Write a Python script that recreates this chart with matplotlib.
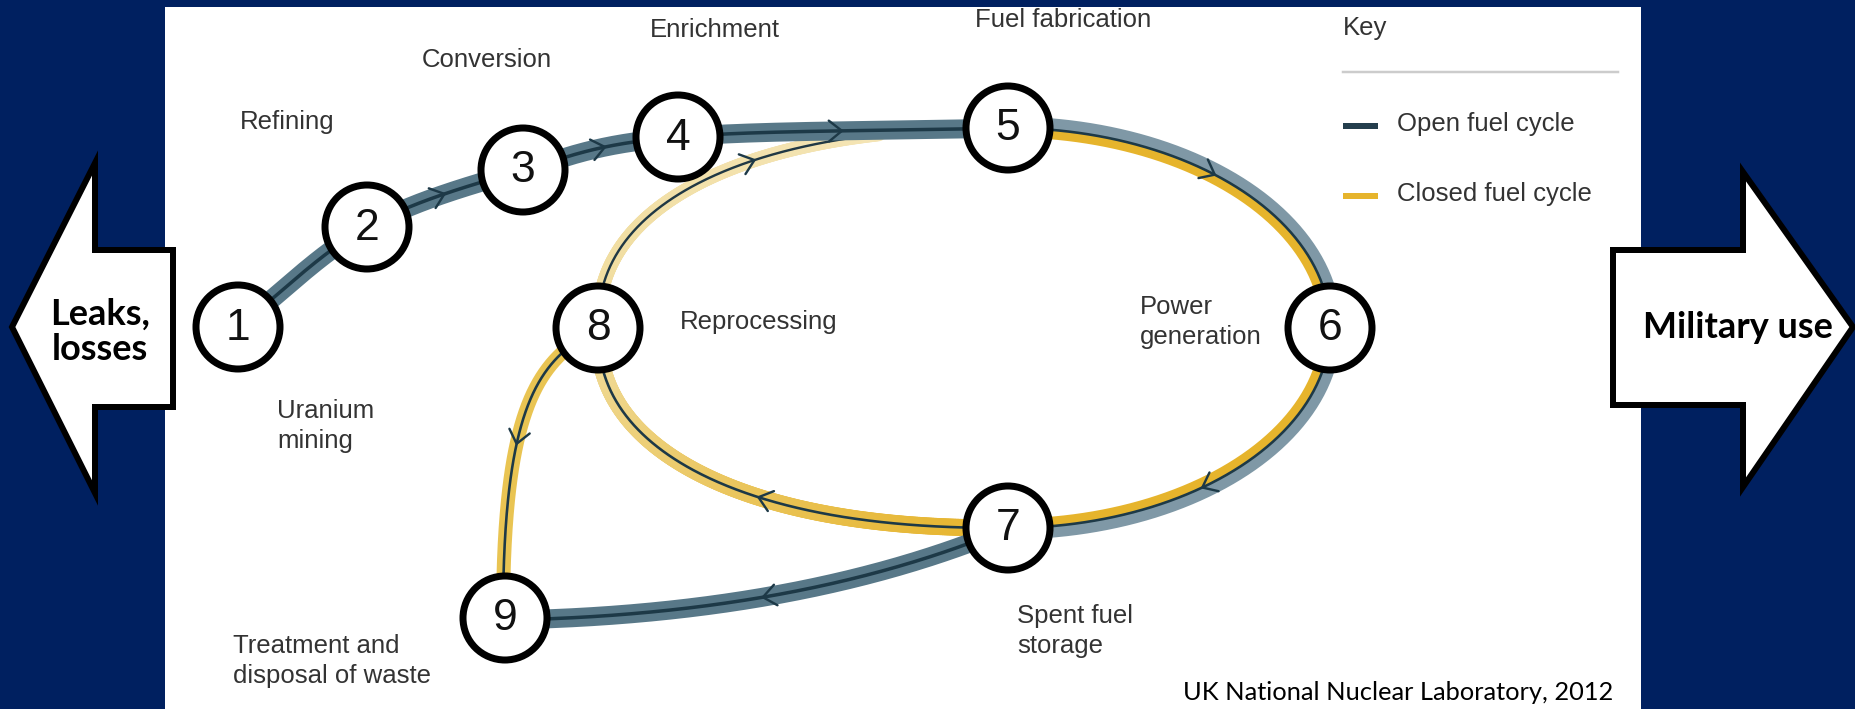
import matplotlib
matplotlib.use('Agg')
import matplotlib.pyplot as plt
import numpy as np
from matplotlib.patches import Circle, Polygon, Rectangle
from matplotlib.collections import LineCollection

# ---- content -------------------------------------------------------------
stage_num = ['1', '2', '3', '4', '5', '6', '7', '8', '9']
stage_names = ['Uranium\nmining', 'Refining', 'Conversion', 'Enrichment',
               'Fuel fabrication', 'Power\ngeneration', 'Spent fuel\nstorage',
               'Reprocessing', 'Treatment and\ndisposal of waste']
key_title = 'Key'
key_labels = ['Open fuel cycle', 'Closed fuel cycle']
side_labels = ['Leaks,\nlosses', 'Military use']
credit = 'UK National Nuclear Laboratory, 2012'

# ---- layout (pixels, origin top-left) --------------------------------------
W, H, DPI = 1856, 709, 100
PX = 72.0 / DPI

node_x = [238, 367, 523, 678, 1008, 1330, 1008, 598, 505]
node_y = [327, 227, 170, 137, 128, 328, 528, 328, 618]
node_r = 42

name_x = [277, 240, 422, 650, 975, 1140, 1017, 680, 233]
name_y = [426, 122, 60, 30, 20, 322, 631, 322, 661]

NAVY = '#002060'
OPEN = '#587888'
OPEN_LIGHT = '#7f98a6'
OPEN_DARK = '#1d3947'
GOLD = '#e6b42c'
GOLD_PALE = '#f0dc9c'
TXT = '#333333'
LABEL_FONT = 'Liberation Sans'


def catmull(pts, n=40):
    pts = np.asarray(pts, float)
    P = np.vstack([2 * pts[0] - pts[1], pts, 2 * pts[-1] - pts[-2]])
    out = []
    t = np.linspace(0, 1, n, endpoint=False)[:, None]
    for i in range(1, len(P) - 2):
        p0, p1, p2, p3 = P[i - 1], P[i], P[i + 1], P[i + 2]
        seg = 0.5 * (2 * p1 + (-p0 + p2) * t + (2 * p0 - 5 * p1 + 4 * p2 - p3) * t ** 2
                     + (-p0 + 3 * p1 - 3 * p2 + p3) * t ** 3)
        out.append(seg)
    out.append(pts[-1][None, :])
    return np.vstack(out)


def bezier(pts, n=200):
    pts = np.asarray(pts, float)
    s = np.linspace(0, 1, n)[:, None]
    if len(pts) == 3:
        return (1 - s) ** 2 * pts[0] + 2 * (1 - s) * s * pts[1] + s ** 2 * pts[2]
    return ((1 - s) ** 3 * pts[0] + 3 * (1 - s) ** 2 * s * pts[1]
            + 3 * (1 - s) * s ** 2 * pts[2] + s ** 3 * pts[3])


def line(ax, xy, width, color, z, cap='butt'):
    ax.plot(xy[:, 0], xy[:, 1], color=color, lw=width * PX,
            solid_capstyle=cap, solid_joinstyle='round', zorder=z)


def grad_line(ax, xy, width, c0, c1, z):
    segs = np.stack([xy[:-1], xy[1:]], axis=1)
    a = np.array(matplotlib.colors.to_rgb(c0))
    b = np.array(matplotlib.colors.to_rgb(c1))
    f = np.linspace(0, 1, len(segs))[:, None]
    cols = a * (1 - f) + b * f
    lc = LineCollection(segs, colors=cols, linewidths=width * PX,
                        capstyle='round', zorder=z)
    ax.add_collection(lc)


def chevron(ax, xy, at, axis=0, size=13, z=4):
    i = int(np.argmin(np.abs(xy[:, axis] - at)))
    i = min(max(i, 1), len(xy) - 2)
    d = xy[i + 1] - xy[i - 1]
    d = d / np.hypot(*d)
    n = np.array([-d[1], d[0]])
    tip = xy[i] + d * 4
    back = tip - d * size
    pts = np.array([back + n * size * 0.8, tip, back - n * size * 0.8])
    ax.plot(pts[:, 0], pts[:, 1], color=OPEN_DARK, lw=2.4 * PX,
            solid_capstyle='round', zorder=z)


fig = plt.figure(figsize=(W / DPI, H / DPI), dpi=DPI, facecolor=NAVY)
ax = fig.add_axes([0, 0, 1, 1])
ax.set_xlim(0, W)
ax.set_ylim(H, 0)
ax.axis('off')

# white panel
ax.add_patch(Rectangle((165, 7), 1641 - 165, H, fc='white', ec='none', zorder=0))

# ---- paths ---------------------------------------------------------------
cx, cy = node_x[4], node_y[5]
b = node_y[6] - cy
a_r = node_x[5] - cx
a_l = cx - node_x[7]
ex = 2.3

# open route 1-2-3-4-5
main = catmull(list(zip(node_x[:5], node_y[:5])), 60)

# right half of the loop 5-6-7
t = np.linspace(-np.pi / 2, np.pi / 2, 300)


def right_half(off):
    return np.column_stack([cx + (a_r + off) * np.cos(t), cy + (b + off) * np.sin(t)])


# left half of the loop: lower 7-8 and upper 8-4
phi = np.linspace(0, np.pi / 2, 300)
lower = np.column_stack([cx - a_l * np.sin(phi) ** (2 / ex),
                         cy + b * np.cos(phi) ** (2 / ex)])
phi_u = np.linspace(np.pi / 2, 0, 300)
upper = np.column_stack([cx - a_l * np.sin(phi_u) ** (2 / ex),
                         cy - b * np.cos(phi_u) ** (2 / ex)])
upper = upper[upper[:, 0] <= 880]

# 8 -> 9
to_waste = bezier([(node_x[7], node_y[7]), (540, 360), (503, 400),
                   (node_x[8] - 2, node_y[8])])

# 7 -> 9 open route
bottom = bezier([(node_x[6], node_y[6]), (800, 615), (node_x[8], node_y[8] + 2)])

# closed route bands (under)
grad_line(ax, upper, 14, GOLD_PALE, '#f4e4b4', 1)
line(ax, upper, 2.4, '#203844', 1.5, cap='round')
grad_line(ax, lower, 17, GOLD, GOLD_PALE, 1)
line(ax, lower, 2.6, OPEN_DARK, 1.5)
line(ax, to_waste, 14, '#e9c452', 1)
line(ax, to_waste, 2.6, OPEN_DARK, 1.5)

# open route bands
line(ax, main, 19, OPEN, 2)
line(ax, main, 3.5, OPEN_DARK, 2.5)
line(ax, right_half(6), 11, OPEN_LIGHT, 2)
line(ax, right_half(-4.5), 10, GOLD, 2)
line(ax, right_half(0), 2.6, OPEN_DARK, 2.5)
line(ax, bottom, 19, OPEN, 2)
line(ax, bottom, 3.5, OPEN_DARK, 2.5)

# flow chevrons
chevron(ax, main, 442)
chevron(ax, main, 600)
chevron(ax, main, 840)
chevron(ax, upper, 750)
chevron(ax, right_half(0)[:150], 1210)
chevron(ax, right_half(0)[150:], 1207)
chevron(ax, lower, 763)
chevron(ax, bottom, 768)
chevron(ax, to_waste, 440, axis=1)

# ---- stage circles --------------------------------------------------------
for num, x, y in zip(stage_num, node_x, node_y):
    ax.add_patch(Circle((x, y), node_r, fc='white', ec='black', lw=7 * PX, zorder=5))
    ax.text(x, y + 1, num, ha='center', va='center', fontsize=32,
            family=LABEL_FONT, color='#111111', zorder=6)

for name, x, y in zip(stage_names, name_x, name_y):
    ax.text(x, y, name, ha='left', va='center', fontsize=18.5, family=LABEL_FONT,
            color=TXT, linespacing=1.3, zorder=6)

# ---- key --------------------------------------------------------------------
ax.text(1343, 28, key_title, ha='left', va='center', fontsize=18.5,
        family=LABEL_FONT, color=TXT)
ax.plot([1343, 1618], [72, 72], color='#cccccc', lw=2.5 * PX)
for lab, col, y in zip(key_labels, ['#243e4d', GOLD], [124, 194]):
    ax.plot([1343, 1378], [y + 2, y + 2], color=col, lw=6 * PX, solid_capstyle='butt')
    ax.text(1397, y, lab, ha='left', va='center', fontsize=18.5,
            family=LABEL_FONT, color=TXT)

# ---- side arrows ------------------------------------------------------------
left_arrow = [(12, 327), (95, 163), (95, 250), (173, 250), (173, 407),
              (95, 407), (95, 493)]
right_arrow = [(1613, 250), (1743, 250), (1743, 172), (1853, 327),
               (1743, 487), (1743, 405), (1613, 405)]
for poly in (left_arrow, right_arrow):
    ax.add_patch(Polygon(poly, closed=True, fc='white', ec='black',
                         lw=6 * PX, joinstyle='miter', zorder=7))

ax.text(100, 332, side_labels[0], ha='center', va='center', fontsize=26,
        family='Lato', weight='bold', color='black', linespacing=1.1, zorder=8)
ax.text(1738, 327, side_labels[1], ha='center', va='center', fontsize=26,
        family='Lato', weight='bold', color='black', zorder=8)

ax.text(1183, 692, credit, ha='left', va='center', fontsize=18.3,
        family='Lato', color='black', zorder=8)

fig.savefig('out.png', dpi=DPI, facecolor=NAVY)
